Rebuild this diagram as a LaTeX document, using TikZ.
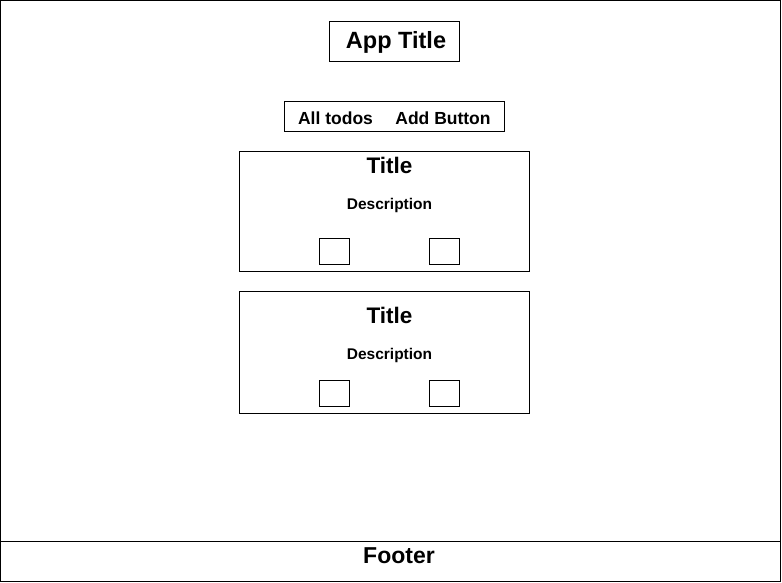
\documentclass[tikz,border=0pt]{standalone}
\usepackage{fontspec}
\setmainfont{Liberation Sans}
\usepackage{tikz}
\usetikzlibrary{positioning}

\tikzset{
  frame/.style={draw, line width=0.8pt, inner sep=0pt},
  label/.style={font=\bfseries, inner sep=0pt, anchor=base},
  tick/.style={frame, minimum width=30pt, minimum height=26pt},
}

\begin{document}
\begin{tikzpicture}[x=1pt, y=-1pt]
  \useasboundingbox (0,0) rectangle (782,583);
  % page frame and footer
  \draw[line width=0.8pt] (0.5,0.5) rectangle (780,581.5);
  \coordinate (footL) at (0.5,541);
  \coordinate (footR) at (780,541);
  \draw[line width=0.8pt] (footL) -- (footR);
  \node[label, font=\bfseries\fontsize{23}{26}\selectfont] (footer) at (399,563.3) {Footer};
  % header
  \node[frame, minimum width=130pt, minimum height=40pt] (appbox) at (394.5,41) {};
  \node[label, font=\bfseries\fontsize{23.5}{27}\selectfont] (apptitle) at (396,48.3) {App Title};
  % navigation bar
  \node[frame, minimum width=220pt, minimum height=30pt] (nav) at (394,116) {};
  \node[label, font=\bfseries\fontsize{17.5}{20}\selectfont] (alltodos) at (335.5,124.3) {All todos};
  \node[label, font=\bfseries\fontsize{17.5}{20}\selectfont] (addbtn) at (443,124.3) {Add Button};
  % todo cards
  \foreach \n/\top/\bot/\ty/\dy/\cy in {1/151/271/173.3/209/251, 2/291/413/323.3/359/393.5}{
    \node[frame, minimum width=290pt, minimum height=\bot-\top] (card\n) at (384.5,{(\top+\bot)/2}) {};
    \node[label, font=\bfseries\fontsize{22.5}{26}\selectfont] (title\n) at (389.5,\ty) {Title};
    \node[label, font=\bfseries\fontsize{15.5}{18}\selectfont] (desc\n) at (389.5,\dy) {Description};
    \node[tick] (done\n) at (334,\cy) {};
    \node[tick] (del\n) at (444.5,\cy) {};
  }
\end{tikzpicture}
\end{document}
